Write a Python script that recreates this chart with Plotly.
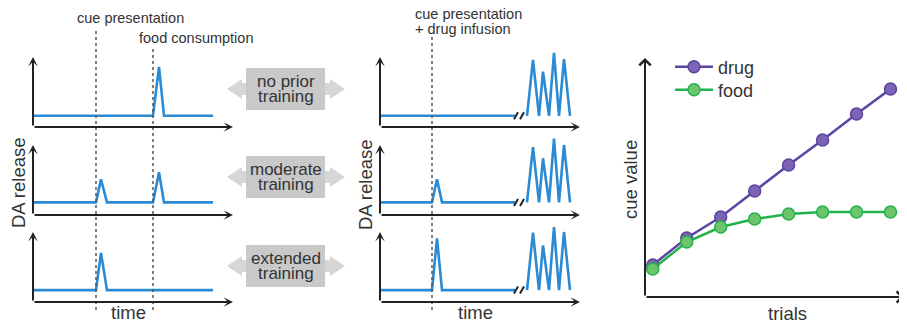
import plotly.graph_objects as go

# page body has an 8px default margin, so the figure is drawn 8px in
OFF = 8
W, H = 907 - OFF, 325 - OFF

# ---------------- data ----------------
# left column: cue paired with food, DA release over time
left_time = [
    [0, 6.0, 6.3, 6.55, 9.0],
    [0, 3.15, 3.4, 3.7, 6.0, 6.3, 6.55, 9.0],
    [0, 3.15, 3.4, 3.7, 9.0],
]
left_da = [
    [0.16, 0.16, 0.86, 0.16, 0.16],
    [0.18, 0.18, 0.51, 0.18, 0.18, 0.61, 0.18, 0.18],
    [0.17, 0.17, 0.70, 0.17, 0.17],
]
cue_time_left = 3.15
food_time = 6.0

# middle column: cue paired with drug infusion (axis break before drug response)
mid_time = [
    [0, 6.75, None, 7.35, 7.65, 7.95, 8.15, 8.45, 8.7, 8.95, 9.2, 9.5],
    [0, 2.6, 2.85, 3.1, 6.75, None, 7.35, 7.65, 7.95, 8.15, 8.45, 8.7, 8.95, 9.2, 9.5],
    [0, 2.6, 2.85, 3.1, 6.75, None, 7.35, 7.65, 7.95, 8.15, 8.45, 8.7, 8.95, 9.2, 9.5],
]
mid_da = [
    [0.16, 0.16, None, 0.16, 0.96, 0.16, 0.79, 0.16, 1.06, 0.16, 0.97, 0.16],
    [0.18, 0.18, 0.51, 0.18, 0.18, None, 0.18, 0.97, 0.18, 0.81, 0.18, 1.09, 0.18, 1.0, 0.18],
    [0.17, 0.17, 0.91, 0.17, 0.17, None, 0.17, 0.99, 0.17, 0.81, 0.17, 1.07, 0.17, 1.0, 0.17],
]
mid_baseline = [0.16, 0.18, 0.17]
cue_time_mid = 2.6
break_x = [6.8, 7.1]

training_labels = [("no prior", "training"), ("moderate", "training"), ("extended", "training")]

# right panel: cue value across trials
trials = [1, 2, 3, 4, 5, 6, 7, 8]
drug_value = [3.2, 5.9, 8.0, 10.6, 13.2, 15.7, 18.3, 20.8]
food_value = [2.8, 5.5, 7.0, 7.8, 8.3, 8.5, 8.5, 8.5]

# ---------------- styling ----------------
FONT = "Liberation Sans, Arial, Helvetica, sans-serif"
TXT = "#333333"
BLUE = "#2a8ad4"
AX = "#222222"
PURPLE_LINE = "#5b45a0"
PURPLE_FILL = "#7d63b5"
GREEN_LINE = "#22b24c"
GREEN_FILL = "#6cc46c"


def px_x(p):
    return (p - OFF) / W


def px_y(p):
    return 1 - (p - OFF) / H


row_bottoms = [127, 215, 302]
row_height = 80
YMAX = 80 / 70

fig = go.Figure()
layout = dict(
    width=W, height=H,
    margin=dict(l=0, r=0, t=0, b=0),
    paper_bgcolor="white", plot_bgcolor="rgba(0,0,0,0)",
    font=dict(family=FONT, color=TXT),
    showlegend=True,
)

annotations = []
shapes = []


def ax_name(i):
    return "" if i == 1 else str(i)


# left panels: axes 1-3, middle panels: axes 4-6
for col, (x0p, x1p) in enumerate([(33, 233), (380, 580)]):
    for r in range(3):
        i = col * 3 + r + 1
        n = ax_name(i)
        layout["xaxis" + n] = dict(domain=[px_x(x0p), px_x(x1p)], range=[0, 10],
                                   visible=False, anchor="y" + n, fixedrange=True)
        layout["yaxis" + n] = dict(domain=[px_y(row_bottoms[r]), px_y(row_bottoms[r] - row_height)],
                                   range=[0, YMAX], visible=False, anchor="x" + n, fixedrange=True)
        xr, yr = "x" + n, "y" + n
        if col == 0:
            xs, ys = left_time[r], left_da[r]
        else:
            xs, ys = mid_time[r], mid_da[r]
        fig.add_trace(go.Scatter(x=xs, y=ys, mode="lines", xaxis=xr, yaxis=yr,
                                 line=dict(color=BLUE, width=2.6), showlegend=False,
                                 hoverinfo="skip", connectgaps=False))
        if col == 1:
            b = mid_baseline[r]
            bx, by = [], []
            for c in break_x:
                bx += [c - 0.1, c + 0.1, None]
                by += [b - 0.05, b + 0.05, None]
            fig.add_trace(go.Scatter(x=bx, y=by, mode="lines", xaxis=xr, yaxis=yr,
                                     line=dict(color=AX, width=2), showlegend=False,
                                     hoverinfo="skip"))
        # axis arrows
        for (tx, ty) in [(10, 0), (0, 1)]:
            annotations.append(dict(x=tx, y=ty, ax=0, ay=0, xref=xr, yref=yr, axref=xr, ayref=yr,
                                    showarrow=True, arrowhead=3, arrowsize=0.8, arrowwidth=2,
                                    arrowcolor=AX, standoff=0, text=""))

# right panel
x7min = 1 - 8 / 35
layout["xaxis7"] = dict(domain=[px_x(645), 1.0], range=[x7min, 1 + 262 / 35],
                        visible=False, anchor="y7", fixedrange=True)
layout["yaxis7"] = dict(domain=[px_y(297), px_y(58)], range=[0, 23.9],
                        visible=False, anchor="x7", fixedrange=True)
fig.add_trace(go.Scatter(x=trials, y=drug_value, mode="lines+markers", name="drug",
                         xaxis="x7", yaxis="y7", cliponaxis=False, legend="legend",
                         line=dict(color=PURPLE_LINE, width=2.5),
                         marker=dict(size=12, color=PURPLE_FILL, line=dict(color=PURPLE_LINE, width=1.5))))
fig.add_trace(go.Scatter(x=trials, y=food_value, mode="lines+markers", name="food",
                         xaxis="x7", yaxis="y7", cliponaxis=False, legend="legend2",
                         line=dict(color=GREEN_LINE, width=2.5),
                         marker=dict(size=12, color=GREEN_FILL, line=dict(color=GREEN_LINE, width=1.5))))
for (tx, ty) in [(1 + 259 / 35, 0), (x7min, 23.9)]:
    annotations.append(dict(x=tx, y=ty, ax=x7min, ay=0, xref="x7", yref="y7", axref="x7", ayref="y7",
                            showarrow=True, arrowhead=4, arrowsize=1.1, arrowwidth=2,
                            arrowcolor=AX, standoff=0, text=""))

legend_common = dict(xanchor="left", yanchor="middle", itemwidth=38,
                     font=dict(size=18, color=TXT, family=FONT), bgcolor="rgba(0,0,0,0)",
                     itemclick=False, itemdoubleclick=False)
layout["legend"] = dict(x=px_x(670), y=px_y(67), **legend_common)
layout["legend2"] = dict(x=px_x(670), y=px_y(90), **legend_common)

# dashed event markers
dash_style = dict(color="#555", width=1.5, dash="3px,3px")
shapes.append(dict(type="line", xref="x", yref="paper", x0=cue_time_left, x1=cue_time_left,
                   y0=px_y(310), y1=px_y(28), line=dash_style))
shapes.append(dict(type="line", xref="x", yref="paper", x0=food_time, x1=food_time,
                   y0=px_y(310), y1=px_y(47), line=dash_style))
shapes.append(dict(type="line", xref="x4", yref="paper", x0=cue_time_mid, x1=cue_time_mid,
                   y0=px_y(310), y1=px_y(35), line=dash_style))

# gray double-arrow boxes
box_centers = [89, 177, 266]
for cy, (l1, l2) in zip(box_centers, training_labels):
    shapes.append(dict(type="rect", xref="paper", yref="paper",
                       x0=px_x(246), x1=px_x(325), y0=px_y(cy + 21), y1=px_y(cy - 21),
                       fillcolor="#c9c9c9", line=dict(width=0), layer="below"))
    for tip, base, sh in [(227, 242, 246), (345, 330, 325)]:
        pts = [(tip, cy), (base, cy - 10), (base, cy - 6), (sh, cy - 6), (sh, cy + 6), (base, cy + 6), (base, cy + 10)]
        path = "M " + " L ".join(f"{px_x(a):.5f},{px_y(b):.5f}" for a, b in pts) + " Z"
        shapes.append(dict(type="path", xref="paper", yref="paper", path=path,
                           fillcolor="#d6d6d6", line=dict(width=0), layer="below"))
    annotations.append(dict(x=px_x(286), y=px_y(cy - 7.5), xref="paper", yref="paper", text=l1,
                            xanchor="center", yanchor="middle",
                            showarrow=False, font=dict(size=17, color=TXT)))
    annotations.append(dict(x=px_x(286), y=px_y(cy + 7.5), xref="paper", yref="paper", text=l2,
                            xanchor="center", yanchor="middle",
                            showarrow=False, font=dict(size=17, color=TXT)))


def label(x, y, text, size=14, angle=0, xanchor="center"):
    annotations.append(dict(x=px_x(x), y=px_y(y), xref="paper", yref="paper", text=text,
                            showarrow=False, textangle=angle, xanchor=xanchor, yanchor="middle",
                            font=dict(size=size, color=TXT)))


label(130, 18, "cue presentation", size=14.5)
label(196, 38, "food consumption", size=14.5)
label(413, 14, "cue presentation", size=14.5, xanchor="left")
label(413, 29, "+ drug infusion", size=14.5, xanchor="left")
label(18, 183, "DA release", size=18.5, angle=-90)
label(365, 185, "DA release", size=18.5, angle=-90)
label(128, 312, "time", size=18.5)
label(475, 312, "time", size=18.5)
label(630, 180, "cue value", size=18.5, angle=-90)
label(787, 313, "trials", size=18.5)

layout["annotations"] = annotations
layout["shapes"] = shapes
fig.update_layout(**layout)
fig.write_html("out.html")
